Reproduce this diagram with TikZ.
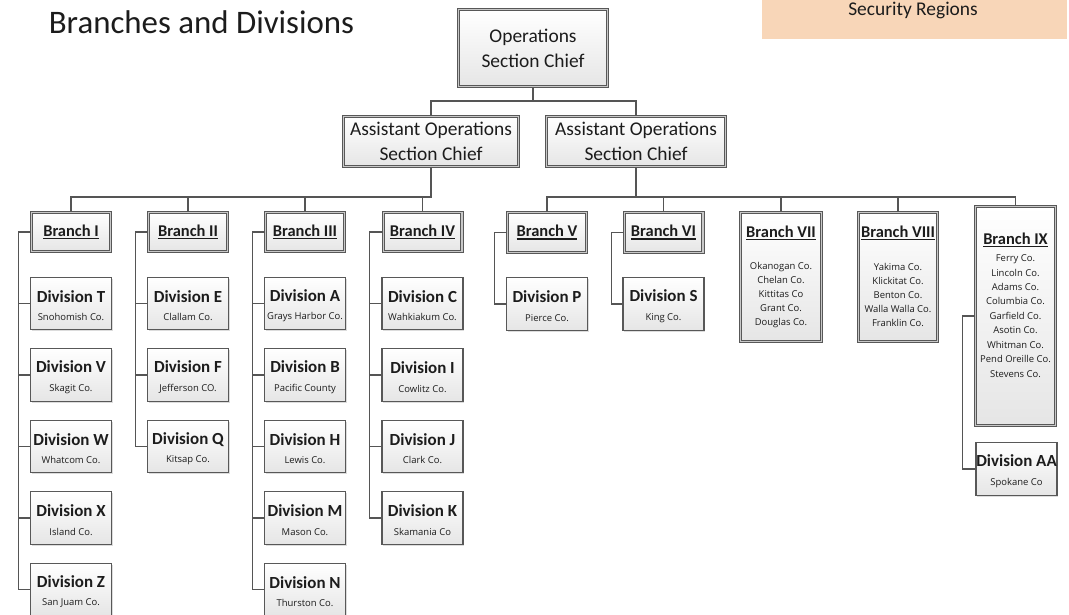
\documentclass[tikz,border=0pt]{standalone}
\usepackage{fontspec}
\setmainfont{Carlito}
\newfontfamily\smallfam{Open Sans}
\usetikzlibrary{shadows}

\definecolor{linegray}{RGB}{85,85,85}
\definecolor{framegray}{RGB}{88,88,88}
\definecolor{bandgray}{RGB}{200,200,200}
\definecolor{peach}{RGB}{248,214,184}
\definecolor{ink}{RGB}{28,28,28}

% fonts
\newcommand{\cofont}{\smallfam\fontsize{9.5}{11}\selectfont}
\newcommand{\divname}{\bfseries\fontsize{17}{19}\selectfont}
% thick underline placed close under the text
\newcommand{\uln}[1]{\leavevmode\setbox0\hbox{#1}\vtop{\copy0\kern1.4bp\hrule height 1.1bp width \wd0}}

\tikzset{
  conn/.style={draw=linegray, line width=1.3bp},
  basebox/.style={rectangle, inner sep=0pt, top color=white, bottom color=gray!20,
    text=ink, align=center,
    drop shadow={shadow xshift=1.2bp, shadow yshift=-1.4bp, opacity=.28}},
  divbox/.style={basebox, draw=framegray, line width=1.1bp,
    minimum width=81bp, minimum height=52.5bp, font=\fontsize{17}{19}\selectfont},
  dblbox/.style={basebox, draw=framegray, line width=1bp, double=bandgray, double distance=1.3bp},
  brbox/.style={dblbox, minimum width=78.7bp, minimum height=39.5bp,
    font=\bfseries\fontsize{16.5}{18}\selectfont},
  chiefbox/.style={dblbox, font=\fontsize{19.5}{25}\selectfont},
  tallbox/.style={dblbox, minimum width=79.5bp},
  brtitle/.style={inner sep=0pt, text=ink, font=\bfseries\fontsize{16.5}{18}\selectfont},
  colist/.style={inner sep=0pt, text=ink, align=center},
}

\newcommand{\mkdiv}[5]{\node[divbox] (#1) at (#2,#3) {\rule{0pt}{16bp}{\divname #4}\\[-0.5bp]{\cofont #5}};}

\begin{document}
\begin{tikzpicture}[x=1bp, y=-1bp]
\useasboundingbox (0,0) rectangle (1069,615);

% heading and legend strip
\node[inner sep=0pt, text=ink, font=\fontsize{33}{36}\selectfont] (title) at (201.5,22) {Branches and Divisions};
\node[fill=peach, minimum width=305bp, minimum height=50bp, inner sep=0pt] (legend) at (914.5,14) {};
\node[inner sep=0pt, text=ink, font=\fontsize{19.5}{22}\selectfont] (legendtxt) at (913,10) {Security Regions};

% command levels
\node[chiefbox, minimum width=148.7bp, minimum height=76.7bp] (ops) at (533,48) {Operations\\Section Chief};
\node[chiefbox, minimum width=174.7bp, minimum height=49.7bp] (as1) at (431,141.5) {Assistant Operations\\Section Chief};
\node[chiefbox, minimum width=178.7bp, minimum height=49.7bp] (as2) at (636,141.5) {Assistant Operations\\Section Chief};

% branches
\node[brbox] (b1) at (71,232) {\uln{Branch I}};
\node[brbox] (b2) at (188,232) {\uln{Branch II}};
\node[brbox] (b3) at (305,232) {\uln{Branch III}};
\node[brbox] (b4) at (422.5,232) {\uln{Branch IV}};
\node[brbox] (b5) at (547,232.5) {\uln{Branch V}};
\node[brbox] (b6) at (663.5,232.5) {\uln{Branch VI}};
\node[tallbox, minimum height=128.7bp, minimum width=80.7bp] (b7) at (781,277) {};
\node[tallbox, minimum height=128.7bp, minimum width=78.7bp] (b8) at (898,277) {};
\node[tallbox, minimum height=218.7bp] (b9) at (1015.5,316) {};

\node[brtitle] (b7t) at (781,233) {\uln{Branch VII}};
\node[colist, font=\smallfam\fontsize{9.5}{14}\selectfont] (b7l) at (781,295)
  {Okanogan Co.\\Chelan Co.\\Kittitas Co\\Grant Co.\\Douglas Co.};
\node[brtitle] (b8t) at (898,233) {\uln{Branch VIII}};
\node[colist, font=\smallfam\fontsize{9.5}{14}\selectfont] (b8l) at (898,295)
  {Yakima Co.\\Klickitat Co.\\Benton Co.\\Walla Walla Co.\\Franklin Co.};
\node[brtitle] (b9t) at (1015.5,240) {\uln{Branch IX}};
\node[colist, font=\smallfam\fontsize{9.5}{14.5}\selectfont] (b9l) at (1015.5,316)
  {Ferry Co.\\Lincoln Co.\\Adams Co.\\Columbia Co.\\Garfield Co.\\Asotin Co.\\Whitman Co.\\Pend Oreille Co.\\Stevens Co.};

% divisions
\mkdiv{dT}{71}{303.5}{Division T}{Snohomish Co.}
\mkdiv{dV}{71}{375}{Division V}{Skagit Co.}
\mkdiv{dW}{71}{446.5}{Division W}{Whatcom Co.}
\mkdiv{dX}{71}{518}{Division X}{Island Co.}
\mkdiv{dZ}{71}{589.5}{Division Z}{San Juam Co.}

\mkdiv{dE}{188}{303.5}{Division E}{Clallam Co.}
\mkdiv{dF}{188}{375}{Division F}{Jefferson CO.}
\mkdiv{dQ}{188}{446.5}{Division Q}{Kitsap Co.}

\mkdiv{dA}{305}{303.5}{Division A}{Grays Harbor Co.}
\mkdiv{dB}{305}{375}{Division B}{Pacific County}
\mkdiv{dH}{305}{446.5}{Division H}{Lewis Co.}
\mkdiv{dM}{305}{518}{Division M}{Mason Co.}
\mkdiv{dN}{305}{589.5}{Division N}{Thurston Co.}

\mkdiv{dC}{422.5}{303.5}{Division C}{Wahkiakum Co.}
\mkdiv{dI}{422.5}{375}{Division I}{Cowlitz Co.}
\mkdiv{dJ}{422.5}{446.5}{Division J}{Clark Co.}
\mkdiv{dK}{422.5}{518}{Division K}{Skamania Co}

\mkdiv{dP}{547}{304}{Division P}{Pierce Co.}
\mkdiv{dS}{663.5}{304}{Division S}{King Co.}
\mkdiv{dAA}{1016.5}{469}{Division AA}{Spokane Co}

% reporting lines: chief to assistants
\coordinate (busTop) at (0,101);
\draw[conn] (ops.south) -- (ops.south |- busTop);
\draw[conn] (as1.north) |- (busTop -| as2.north) -- (as2.north);

% assistants to branches
\coordinate (busMid) at (0,197);
\draw[conn] (as1.south) -- (as1.south |- busMid) -| (b1.north);
\foreach \b in {b2,b3,b4} \draw[conn] (\b.north) -- (\b.north |- busMid);
\draw[conn] (b5.north) |- (busMid -| b9.north) -- (b9.north);
\draw[conn] (as2.south) -- (as2.south |- busMid);
\foreach \b in {b6,b7,b8} \draw[conn] (\b.north) -- (\b.north |- busMid);

% branches to divisions (left-side spines)
\draw[conn] (b1.west) -- ++(-12.5,0) coordinate (s1) |- (dZ.west);
\foreach \d in {dT,dV,dW,dX} \draw[conn] (\d.west) -- (\d.west -| s1);
\draw[conn] (b2.west) -- ++(-12.5,0) coordinate (s2) |- (dQ.west);
\foreach \d in {dE,dF} \draw[conn] (\d.west) -- (\d.west -| s2);
\draw[conn] (b3.west) -- ++(-12.5,0) coordinate (s3) |- (dN.west);
\foreach \d in {dA,dB,dH,dM} \draw[conn] (\d.west) -- (\d.west -| s3);
\draw[conn] (b4.west) -- ++(-13.5,0) coordinate (s4) |- (dK.west);
\foreach \d in {dC,dI,dJ} \draw[conn] (\d.west) -- (\d.west -| s4);
\draw[conn] (b5.west) -- ++(-12.5,0) |- (dP.west);
\draw[conn] (b6.west) -- ++(-12.5,0) |- (dS.west);
\draw[conn] (b9.west) -- ++(-12.5,0) |- (dAA.west);
\end{tikzpicture}
\end{document}
